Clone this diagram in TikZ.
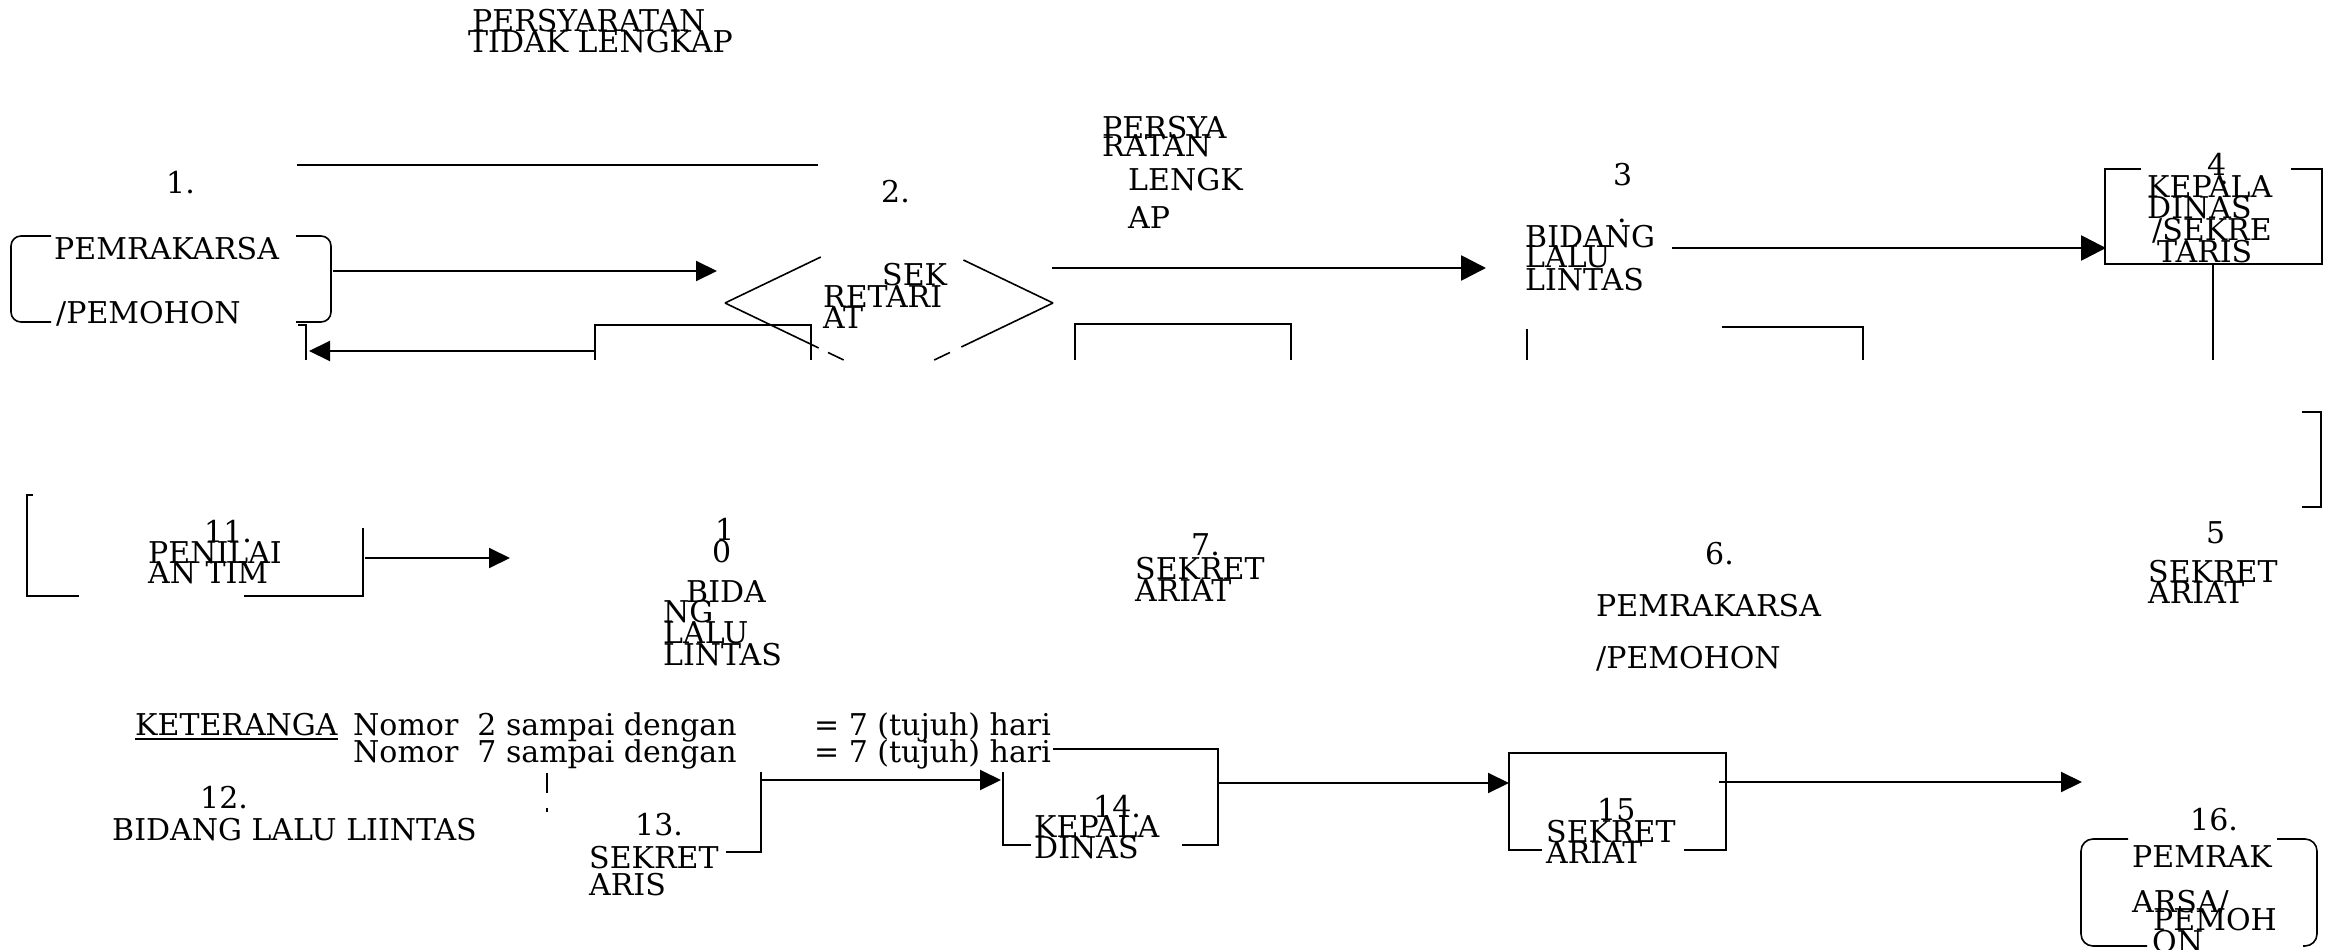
\documentclass[tikz,border=0pt]{standalone}
\usepackage{fontspec}
\setmainfont{DejaVu Serif}
\usetikzlibrary{arrows.meta}
\begin{document}
\begin{tikzpicture}[x=1pt,y=-1pt,
  txt/.style={anchor=base west, inner sep=0pt, font=\fontsize{30}{21}\selectfont},
  ln/.style={line width=1.6pt},
  arr/.style={line width=2pt, -{Triangle[length=21pt,width=20pt]}},
  bigarr/.style={line width=2.6pt, -{Triangle[length=25pt,width=25pt]}}]
\useasboundingbox (0,0) rectangle (2327,950);
% ---------- texts row 1
\node[txt] (t0a) at (472,32) {PERSYARATAN};
\node[txt] (t0b) at (468,53) {TIDAK LENGKAP};
\node[txt] (n1) at (166,193) {1.};
\node[txt] (t1a) at (54,259) {PEMRAKARSA};
\node[txt] (t1b) at (56,323) {/PEMOHON};
\node[txt] (n2) at (881,202) {2.};
\node[txt] (t2a) at (882,285) {SEK};
\node[txt] (t2b) at (823,307) {RETARI};
\node[txt] (t2c) at (823,328) {AT};
\node[txt] (p1) at (1102,138) {PERSYA};
\node[txt] (p2) at (1102,156) {RATAN};
\node[txt] (p3) at (1128,190) {LENGK};
\node[txt] (p4) at (1128,228) {AP};
\node[txt] (n3) at (1613,185) {3};
\node[txt] (n3d) at (1617,222) {.};
\node[txt] (t3a) at (1525,247) {BIDANG};
\node[txt] (t3b) at (1525,267) {LALU};
\node[txt] (t3c) at (1525,290) {LINTAS};
\node[txt] (n4) at (2207,175) {4};
\node[txt] (n4d) at (2219,184) {.};
\node[txt] (t4a) at (2147,197) {KEPALA};
\node[txt] (t4b) at (2147,218) {DINAS};
\node[txt] (t4c) at (2152,240) {/SEKRE};
\node[txt] (t4d) at (2157,262) {TARIS};
% ---------- texts row 2
\node[txt] (n11) at (204,542) {11.};
\node[txt] (t11a) at (148,563) {PENILAI};
\node[txt] (t11b) at (148,583) {AN TIM};
\node[txt] (n10a) at (715,540) {1};
\node[txt] (n10b) at (712,562) {0};
\node[txt] (t10a) at (686,602) {BIDA};
\node[txt] (t10b) at (663,622) {NG};
\node[txt] (t10c) at (663,643) {LALU};
\node[txt] (t10d) at (663,665) {LINTAS};
\node[txt] (n7) at (1191,555) {7.};
\node[txt] (t7a) at (1135,579) {SEKRET};
\node[txt] (t7b) at (1135,601) {ARIAT};
\node[txt] (n6) at (1705,564) {6.};
\node[txt] (t6a) at (1596,616) {PEMRAKARSA};
\node[txt] (t6b) at (1596,668) {/PEMOHON};
\node[txt] (n5) at (2206,543) {5};
\node[txt] (t5a) at (2148,582) {SEKRET};
\node[txt] (t5b) at (2148,603) {ARIAT};
% ---------- texts row 3
\node[txt] (ket) at (135,735) {KETERANGA};
\node[txt] (k1) at (353,735) {Nomor~~2 sampai dengan};
\node[txt] (k1b) at (814,735) {= 7 (tujuh) hari};
\node[txt] (k2) at (353,762) {Nomor~~7 sampai dengan};
\node[txt] (k2b) at (814,762) {= 7 (tujuh) hari};
\node[txt] (n12) at (200,808) {12.};
\node[txt] (t12) at (112,840) {BIDANG LALU LIINTAS};
\node[txt] (n13) at (635,835) {13.};
\node[txt] (t13a) at (589,868) {SEKRET};
\node[txt] (t13b) at (589,895) {ARIS};
\node[txt] (n14) at (1093,817) {14.};
\node[txt] (t14a) at (1034,837) {KEPALA};
\node[txt] (t14b) at (1034,858) {DINAS};
\node[txt] (n15) at (1597,820) {15};
\node[txt] (t15a) at (1546,842) {SEKRET};
\node[txt] (t15b) at (1546,863) {ARIAT};
\node[txt] (n16) at (2190,830) {16.};
\node[txt] (t16a) at (2132,867) {PEMRAK};
\node[txt] (t16b) at (2132,912) {ARSA/};
\node[txt] (t16c) at (2153,930) {PEMOH};
\node[txt] (t16d) at (2152,952) {ON};
% ---------- shapes row 1
\draw[ln] (297,165) -- (818,165);
\draw[ln] (51,236) -- (21,236) arc[start angle=270,end angle=180,radius=10] -- (11,312) arc[start angle=180,end angle=90,radius=10] -- (51,322);
\draw[ln] (296,236) -- (321,236) arc[start angle=270,end angle=360,radius=10] -- (331,312) arc[start angle=0,end angle=90,radius=10] -- (296,322);
\draw[ln] (298,325) -- (306,325) -- (306,360);
\draw[ln] (811,360) -- (811,325) -- (595,325) -- (595,360);
\draw[ln] (725,303) -- (820.8,257);
\draw[ln] (963.4,260) -- (1053,303);
\draw[ln] (725,303) -- (818.7,348);
\draw[ln] (828,352.5) -- (843.7,360);
\draw[ln] (1053,303) -- (961.3,347);
\draw[ln] (949.9,352.5) -- (934.2,360);
\draw[ln] (1075,360) -- (1075,324) -- (1291,324) -- (1291,360);
\draw[ln] (1527,329) -- (1527,360);
\draw[ln] (1722,327) -- (1863,327) -- (1863,360);
\draw[ln] (2141,169) -- (2105,169) -- (2105,264) -- (2322,264) -- (2322,169) -- (2291,169);
\draw[ln] (2213,265) -- (2213,360);
% ---------- shapes row 2
\draw[ln] (33,495) -- (27,495) -- (27,596) -- (79,596);
\draw[ln] (244,596) -- (363,596) -- (363,528);
\draw[ln] (2302,412) -- (2321,412) -- (2321,507) -- (2302,507);
% ---------- shapes row 3
\draw[ln] (135,739) -- (338,739);
\draw[ln] (547,773) -- (547,793);
\draw[ln] (547,808) -- (547,812);
\draw[ln] (1053,749) -- (1218,749) -- (1218,845) -- (1182,845);
\draw[ln] (1031,845) -- (1003,845) -- (1003,772);
\draw[ln] (726,852) -- (761,852) -- (761,772);
\draw[ln] (1542,850) -- (1509,850) -- (1509,753) -- (1726,753) -- (1726,850) -- (1684,850);
\draw[ln] (2128,839) -- (2093,839) arc[start angle=270,end angle=180,radius=12] -- (2081,934) arc[start angle=180,end angle=90,radius=12] -- (2147,946);
\draw[ln] (2277,839) -- (2305,839) arc[start angle=270,end angle=360,radius=12] -- (2317,934) arc[start angle=0,end angle=90,radius=12] -- (2303,946);
% ---------- arrows
\coordinate (a1s) at (333,271); \coordinate (a1e) at (717,271);
\coordinate (a2s) at (1052,268); \coordinate (a2e) at (1486,268);
\coordinate (a3s) at (1672,248); \coordinate (a3e) at (2106,248);
\coordinate (ars) at (595,351); \coordinate (are) at (309,351);
\coordinate (a11s) at (365,558); \coordinate (a11e) at (510,558);
\coordinate (a13s) at (761,780); \coordinate (a13e) at (1001,780);
\coordinate (a14s) at (1218,783); \coordinate (a14e) at (1509,783);
\coordinate (a15s) at (1719,782); \coordinate (a15e) at (2082,782);
\draw[arr] (a1s) -- (a1e);
\draw[bigarr] (a2s) -- (a2e);
\draw[bigarr] (a3s) -- (a3e);
\draw[arr] (ars) -- (are);
\draw[arr] (a11s) -- (a11e);
\draw[arr] (a13s) -- (a13e);
\draw[arr] (a14s) -- (a14e);
\draw[arr] (a15s) -- (a15e);
\end{tikzpicture}
\end{document}
